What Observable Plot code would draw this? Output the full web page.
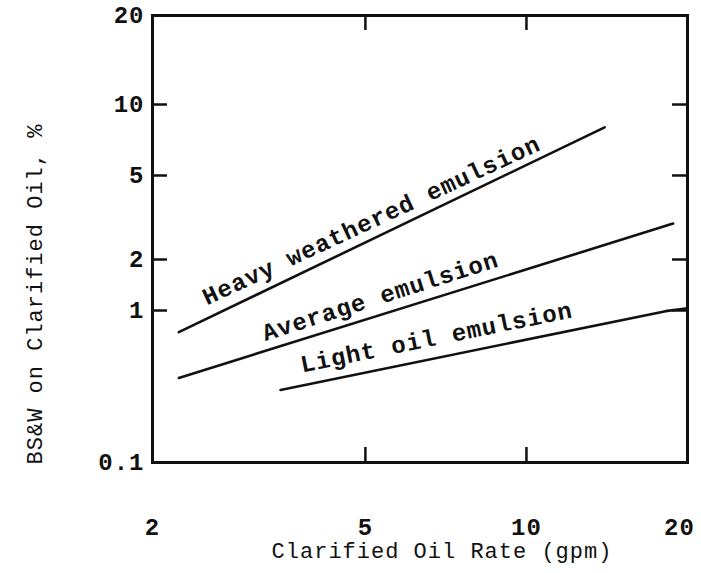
<!DOCTYPE html>
<html>
<head>
<meta charset="utf-8">
<script src="https://cdn.jsdelivr.net/npm/d3@7"></script>
<script src="https://cdn.jsdelivr.net/npm/@observablehq/plot@0.6"></script>
<style>
  html, body { margin: 0; padding: 0; background: #fff; }
  #chart svg { display: block; }
</style>
</head>
<body>
<div id="chart"></div>
<script>
// Clarified oil rate (gpm) and BS&W (%) along each emulsion curve
const heavyRate = [2.24, 14.0];
const heavyBsw = [0.72, 8.0];
const averageRate = [2.24, 18.8];
const averageBsw = [0.36, 2.96];
const lightRate = [3.47, 18.2, 20];
const lightBsw = [0.30, 0.99, 1.03];

// Curve captions: anchor point (start of baseline) and slope angle
const labelText = ["Heavy weathered emulsion", "Average emulsion", "Light oil emulsion"];
const labelRate = [2.53, 3.25, 3.81];
const labelBsw = [1.07, 0.63, 0.391];
const labelAngle = [-25, -17.7, -11.5];

// Axis ticks
const xTicks = [2, 5, 10];
const xEndTick = [20];
const yTicks = [0.1, 1, 2, 5, 10, 20];
const xInnerTicks = [5, 10];
const yInnerTicks = [1, 2, 5, 10];

// The printed log grid is slightly uneven, so the y scale is piecewise at its tick values
const yBreaks = [0.1, 1, 2, 5, 10, 20];
const yStops = [462, 310, 259, 175, 104, 15];

const curves = [
  ...heavyRate.map((r, i) => ({series: "heavy", rate: r, bsw: heavyBsw[i]})),
  ...averageRate.map((r, i) => ({series: "average", rate: r, bsw: averageBsw[i]})),
  ...lightRate.map((r, i) => ({series: "light", rate: r, bsw: lightBsw[i]}))
];
const labels = labelText.map((t, i) => ({text: t, rate: labelRate[i], bsw: labelBsw[i], angle: labelAngle[i]}));

const mono = "Liberation Mono, DejaVu Sans Mono, monospace";
const W = 701, H = 573;
const mL = 152, mR = 14, mT = 15, mB = 111;
const frameW = W - mL - mR, frameH = H - mT - mB;
const tickLen = 15;
const tickText = {tickSize: 0, tickPadding: 55, tickFormat: d => String(d), label: null,
  fontSize: 24, fontWeight: "bold", fontFamily: mono};

const chart = Plot.plot({
  width: W,
  height: H,
  marginLeft: mL,
  marginRight: mR,
  marginTop: mT,
  marginBottom: mB,
  style: {fontFamily: mono, color: "#111", background: "#fff", letterSpacing: "1px"},
  x: {type: "log", domain: [2, 20]},
  y: {type: "log", domain: yBreaks, range: yStops},
  marks: [
    // inward ticks on all four sides
    Plot.tickX(xInnerTicks, {x: d => d, insetTop: frameH - tickLen, stroke: "#111", strokeWidth: 2.5}),
    Plot.tickX(xInnerTicks, {x: d => d, insetBottom: frameH - tickLen, stroke: "#111", strokeWidth: 2.5}),
    Plot.tickY(yInnerTicks, {y: d => d, insetRight: frameW - tickLen, stroke: "#111", strokeWidth: 2.5}),
    Plot.tickY(yInnerTicks, {y: d => d, insetLeft: frameW - tickLen, stroke: "#111", strokeWidth: 2.5}),
    Plot.frame({stroke: "#111", strokeWidth: 3}),
    Plot.axisX({...tickText, ticks: xTicks}),
    Plot.axisX({...tickText, ticks: xEndTick, dx: -8}),
    Plot.axisY({ticks: yTicks, tickSize: 0, tickPadding: 8, tickFormat: d => String(d), label: null,
      fontSize: 24, fontWeight: "bold", fontFamily: mono}),
    Plot.line(curves, {x: "rate", y: "bsw", z: "series", stroke: "#111", strokeWidth: 2.6, curve: "linear"}),
    Plot.text(labels, {x: "rate", y: "bsw", text: "text", rotate: "angle", textAnchor: "start", lineAnchor: "bottom",
      fontSize: 24, fontWeight: "bold", fontFamily: mono, fill: "#111"}),
    Plot.text(["Clarified Oil Rate (gpm)"], {text: d => d, frameAnchor: "bottom", textAnchor: "middle", lineAnchor: "middle",
      dx: 22, dy: 88, fontSize: 22, fontFamily: mono, fill: "#111"}),
    Plot.text(["BS&W on Clarified Oil, %"], {text: d => d, frameAnchor: "left", textAnchor: "middle", lineAnchor: "middle",
      rotate: -90, dx: -118, dy: 55, fontSize: 22, fontFamily: mono, fill: "#111"})
  ]
});
document.getElementById("chart").append(chart);
</script>
</body>
</html>
